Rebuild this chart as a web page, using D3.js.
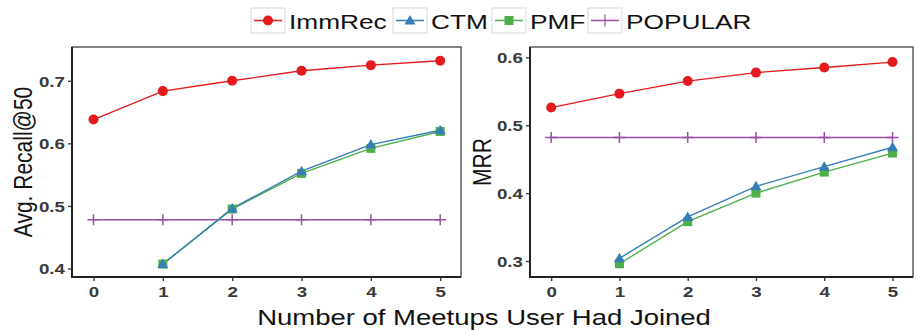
<!DOCTYPE html>
<html><head><meta charset="utf-8">
<script src="https://cdn.jsdelivr.net/npm/d3@7"></script>
<style>body{margin:0;background:#fff}svg{display:block}</style>
</head><body>
<script>
const xCats = [0,1,2,3,4,5];
const seriesNames = ["ImmRec","CTM","PMF","POPULAR"];
const recallImmRec = [0.638,0.6835,0.700,0.716,0.725,0.732];
const recallCTM    = [null,0.407,0.496,0.5555,0.598,0.621];
const recallPMF    = [null,0.407,0.495,0.552,0.592,0.619];
const recallPOP    = [0.478,0.478,0.478,0.478,0.478,0.478];
const mrrImmRec = [0.526,0.5465,0.565,0.5775,0.585,0.593];
const mrrCTM    = [null,0.304,0.365,0.410,0.439,0.4675];
const mrrPMF    = [null,0.296,0.358,0.400,0.431,0.459];
const mrrPOP    = [0.482,0.482,0.482,0.482,0.482,0.482];
const recallTicks = [0.4,0.5,0.6,0.7];
const mrrTicks = [0.3,0.4,0.5,0.6];
const xTitle = "Number of Meetups User Had Joined";

const colors = {ImmRec:"#E41A1C",CTM:"#377EB8",PMF:"#4DAF4A",POPULAR:"#984EA3"};
const SX = 1.25;
const W=916,H=330;
const svg = d3.select("body").append("svg").attr("width",W).attr("height",H);
const FONT = "Liberation Sans, Arial, Helvetica, sans-serif";

function txt(g,x,y,s,size,anchor,rot,fill,weight){
  return g.append("text").attr("transform",`translate(${x},${y}) scale(${SX},1)`+(rot?` rotate(${rot})`:""))
    .attr("text-anchor",anchor||"start").attr("font-family",FONT).attr("font-size",size)
    .attr("font-weight",weight||"normal").attr("fill",fill||"#000").text(s);
}

function symbol(g,name,x,y){
  const c=colors[name];
  if(name==="ImmRec") g.append("circle").attr("cx",x).attr("cy",y).attr("r",5).attr("fill",c);
  else if(name==="CTM") g.append("path").attr("d",`M${x},${y-5.5}L${x+5.5},${y+4}L${x-5.5},${y+4}Z`).attr("fill",c);
  else if(name==="PMF") g.append("rect").attr("x",x-4.5).attr("y",y-4.5).attr("width",9).attr("height",9).attr("fill",c);
  else g.append("path").attr("d",`M${x-6},${y}H${x+6}M${x},${y-5.5}V${y+5.5}`).attr("stroke",c).attr("stroke-width",1.5).attr("fill","none");
}

function panel(cfg){
  const {left,right,top,bottom,ydom,ticks,series,ylabel,ylabX} = cfg;
  const x = d3.scaleLinear().domain([-0.31,5.3]).range([left,right]);
  const y = d3.scaleLinear().domain(ydom).range([bottom,top]);
  const g = svg.append("g");
  const line = d3.line().defined(d=>d[1]!=null).x(d=>x(d[0])).y(d=>y(d[1]));
  const order = ["POPULAR","PMF","CTM","ImmRec"];
  order.forEach(n=>{
    const pts = xCats.map((c,i)=>[c,series[n][i]]);
    g.append("path").attr("d",line(pts)).attr("fill","none").attr("stroke",colors[n]).attr("stroke-width",1.4);
  });
  order.forEach(n=>{
    xCats.forEach((c,i)=>{ const v=series[n][i]; if(v!=null) symbol(g,n,x(c),y(v)); });
  });
  g.append("rect").attr("x",left).attr("y",top).attr("width",right-left).attr("height",bottom-top)
    .attr("fill","none").attr("stroke","#444").attr("stroke-width",1.3);
  g.append("path").attr("d",`M${left},${top}V${bottom}H${right}`).attr("fill","none").attr("stroke","#222").attr("stroke-width",2);
  const ya = d3.axisLeft(y).tickValues(ticks).tickSize(4).tickPadding(3).tickFormat(d3.format(".1f"));
  const yg = svg.append("g").attr("transform",`translate(${left},0)`).call(ya);
  yg.select(".domain").remove();
  yg.selectAll(".tick line").attr("stroke","#333").attr("stroke-width",1.3);
  yg.selectAll(".tick text").each(function(){
    const t=d3.select(this); const s=t.text(); const p=this.parentNode;
    const ty = +d3.select(p).attr("transform").match(/,([-\d.]+)\)/)[1];
    t.remove();
    txt(svg,left-7,ty+5.5,s,15,"end",0,"#3a3a3a","bold");
  });
  const xa = d3.axisBottom(x).tickValues(xCats).tickSize(4).tickPadding(3).tickFormat(d3.format("d"));
  const xg = svg.append("g").attr("transform",`translate(0,${bottom})`).call(xa);
  xg.select(".domain").remove();
  xg.selectAll(".tick line").attr("stroke","#333").attr("stroke-width",1.3);
  xg.selectAll(".tick text").each(function(){
    const t=d3.select(this); const s=t.text(); const p=this.parentNode;
    const tx = +d3.select(p).attr("transform").match(/\(([-\d.]+),/)[1];
    t.remove();
    txt(svg,tx,bottom+20,s,15,"middle",0,"#3a3a3a","bold");
  });
  txt(svg,ylabX,(top+bottom)/2,ylabel,21,"middle",-90,"#111");
}

panel({left:72,right:461,top:47,bottom:277,ydom:[0.3864,0.754],ticks:recallTicks,
  series:{ImmRec:recallImmRec,CTM:recallCTM,PMF:recallPMF,POPULAR:recallPOP},ylabel:"Avg. Recall@50",ylabX:32});
panel({left:530,right:913,top:47,bottom:277,ydom:[0.2765,0.6152],ticks:mrrTicks,
  series:{ImmRec:mrrImmRec,CTM:mrrCTM,PMF:mrrPMF,POPULAR:mrrPOP},ylabel:"MRR",ylabX:491});

txt(svg,484,325,xTitle,22,"middle",0,"#111");

const leg = svg.append("g");
const items = [{n:"ImmRec",kx:251},{n:"CTM",kx:393},{n:"PMF",kx:492},{n:"POPULAR",kx:588}];
items.forEach(it=>{
  leg.append("rect").attr("x",it.kx).attr("y",8).attr("width",34).attr("height",25)
    .attr("fill","#fff").attr("stroke","#ccc").attr("stroke-width",0.8);
  leg.append("line").attr("x1",it.kx+3).attr("x2",it.kx+31).attr("y1",20.5).attr("y2",20.5)
    .attr("stroke",colors[it.n]).attr("stroke-width",1.5);
  if(it.n!=="POPULAR") symbol(leg,it.n,it.kx+17,20.5);
  else leg.append("path").attr("d",`M${it.kx+17},${14.5}V${26.5}`).attr("stroke",colors[it.n]).attr("stroke-width",1.2);
  txt(leg,it.kx+38,29,it.n,21,"start",0,"#111");
});
</script>
</body></html>
